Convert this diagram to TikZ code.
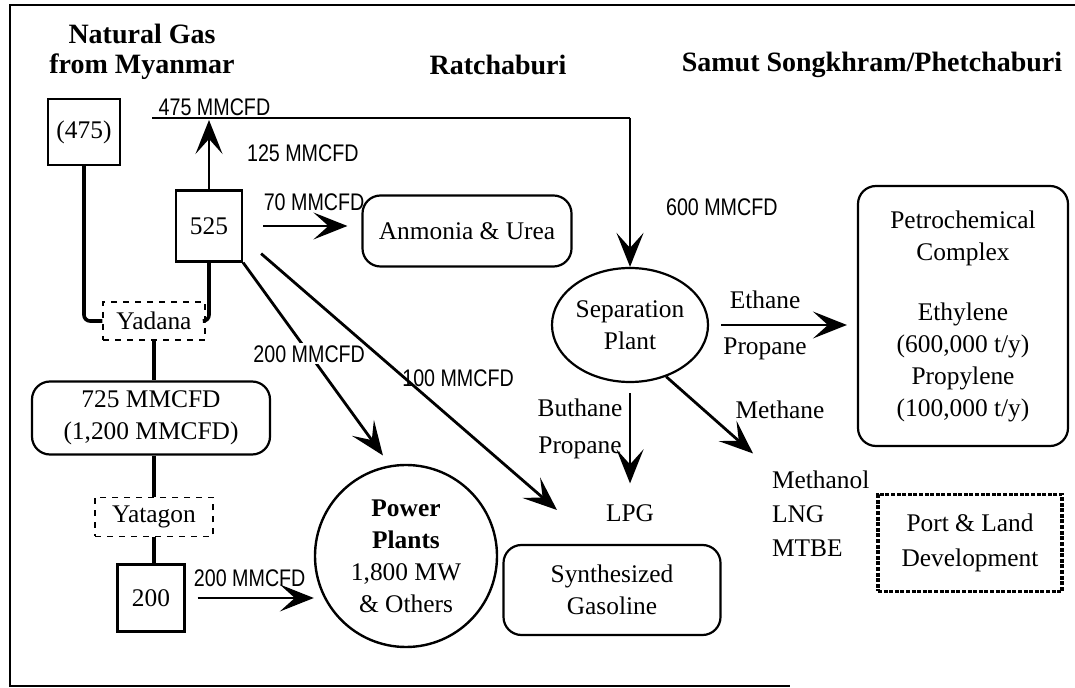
\documentclass[tikz,border=0pt]{standalone}
\usepackage{fontspec}
\setmainfont{Liberation Serif}
\newfontfamily\narrowsans[FakeStretch=0.82]{Liberation Sans}
\usetikzlibrary{shapes.geometric,arrows.meta,calc}

\begin{document}
\begin{tikzpicture}[x=0.5pt,y=-0.5pt,
  font=\fontsize{12.7}{16}\selectfont,
  box/.style={draw,line width=1.1pt,inner sep=0pt},
  dbox/.style={draw,dashed,line width=0.6pt,inner sep=0pt},
  rbox/.style={draw,line width=1.1pt,rounded corners=9pt,inner sep=0pt,align=center},
  pipe/.style={line width=1.8pt},
  flow/.style={line width=1.4pt,-{Stealth[length=17pt,width=13.5pt,inset=7.5pt]}},
  thinflow/.style={line width=0.7pt,-{Stealth[length=17pt,width=13.5pt,inset=7.5pt]}},
  rate/.style={font=\fontsize{12}{14}\narrowsans},
  head/.style={font=\fontsize{14}{15}\selectfont\bfseries,align=center}]
\useasboundingbox (0,0) rectangle (1075,688);
\draw[line width=0.9pt] (1075,5) -- (10,5) -- (10,686) -- (790,686);

% headings
\node[head] (hgas) at (142,52) {Natural Gas\\from Myanmar};
\node[head] (hratch) at (498,65) {Ratchaburi};
\node[head] (hsamut) at (872,65) {Samut Songkhram/Phetchaburi};

% gas fields
\node[box,minimum width=36pt,minimum height=33pt] (b475) at (84,132) {(475)};
\node[box,minimum width=33pt,minimum height=35.5pt] (b525) at (209,226) {525};
\node[dbox,minimum width=51pt,minimum height=19pt] (yadana) at (154,321) {Yadana};
\node[rbox,minimum width=119pt,minimum height=36.5pt] (field) at (151,418) {725 MMCFD\\(1,200 MMCFD)};
\node[dbox,minimum width=59pt,minimum height=19.5pt] (yatagon) at (154,517) {Yatagon};
\node[box,minimum width=33.5pt,minimum height=33.5pt] (b200) at (151,598) {200};

% users
\node[circle,draw,line width=1.2pt,minimum size=91pt,inner sep=0pt,align=center] (power) at (406,556) {\textbf{Power}\\\textbf{Plants}\\1,800 MW\\\& Others};
\node[rbox,minimum width=104.5pt,minimum height=35.5pt] (urea) at (467,231) {Anmonia \& Urea};
\node[ellipse,draw,line width=1.1pt,minimum width=78pt,minimum height=57pt,inner sep=0pt,align=center] (sep) at (630,325) {Separation\\Plant};
\node[rbox,minimum width=105pt,minimum height=130pt] (petro) at (963,316) {Petrochemical\\Complex\\[14pt]Ethylene\\(600,000 t/y)\\Propylene\\(100,000 t/y)};
\node[draw,line width=1.6pt,dash pattern=on 2pt off 0.8pt,minimum width=92pt,minimum height=48.5pt,inner sep=0pt,align=center,font=\fontsize{12.7}{17.5}\selectfont] (port) at (970,543) {Port \& Land\\Development};
\node[rbox,minimum width=108.5pt,minimum height=45pt] (gasoline) at (612,590) {Synthesized\\Gasoline};
\node (lpg) at (630,513) {LPG};
\node[anchor=west,align=left,font=\fontsize{12.7}{17}\selectfont] (prod) at (765,514) {Methanol\\LNG\\MTBE};
\node (methane) at (780,410) {Methane};
\node[align=center,font=\fontsize{12.7}{18.5}\selectfont] (butprop) at (580,429) {Buthane\\Propane};
\node (ethane) at (765,300) {Ethane};
\node (propane) at (765,349) {Propane};

% pipelines
\draw[pipe,rounded corners=3pt] (b475.south) -- (b475.south |- yadana.west) -- (yadana.west);
\draw[pipe,rounded corners=3pt] (b525.south) -- (b525.south |- yadana.east) -- (yadana.east);
\draw[pipe] (yadana.south) -- (yadana.south |- field.north);
\draw[pipe] (yatagon.north |- field.south) -- (yatagon.north);
\draw[pipe] (yatagon.south) -- (yatagon.south |- b200.north);

\coordinate (west) at (152,118);
\coordinate (lpgin) at (557,510);
\draw[line width=0.7pt] (west) -- (west -| sep.north) coordinate (corner)
  node[pos=0,anchor=south west,xshift=2pt,inner sep=1pt,rate] {475 MMCFD};
\draw[flow] (corner) -- (sep.north) node[pos=0.6,anchor=west,xshift=14pt,rate] {600 MMCFD};
\draw[flow,shorten >=1pt] (b525.north) -- (b525.north |- west) node[midway,anchor=west,xshift=15pt,rate] {125 MMCFD};
\draw[thinflow,shorten <=10pt,shorten >=7pt] (b525.east) -- (b525.east -| urea.west) node[pos=0.6,above=4pt,rate] {70 MMCFD};
\draw[flow,shorten >=6pt] (b525.south east) -- (power.100) node[pos=0.45,fill=white,inner sep=1pt,rate] {200 MMCFD};
\draw[flow] ([xshift=9pt,yshift=4.5pt]b525.south east) -- (lpgin) node[pos=0.45,anchor=west,yshift=-4.5pt,rate] {100 MMCFD};
\draw[thinflow,shorten <=6pt] (b200.east) -- (b200.east -| power.west) node[midway,above=2pt,rate] {200 MMCFD};

% products
\draw[thinflow,shorten <=6pt,shorten >=5pt] (sep.east) -- (sep.east -| petro.west);
\draw[flow,shorten <=5pt,shorten >=7pt] (sep.south) -- (lpg.north);
\draw[flow,shorten >=8pt] (sep.-55) -- (prod.north west);
\end{tikzpicture}
\end{document}
